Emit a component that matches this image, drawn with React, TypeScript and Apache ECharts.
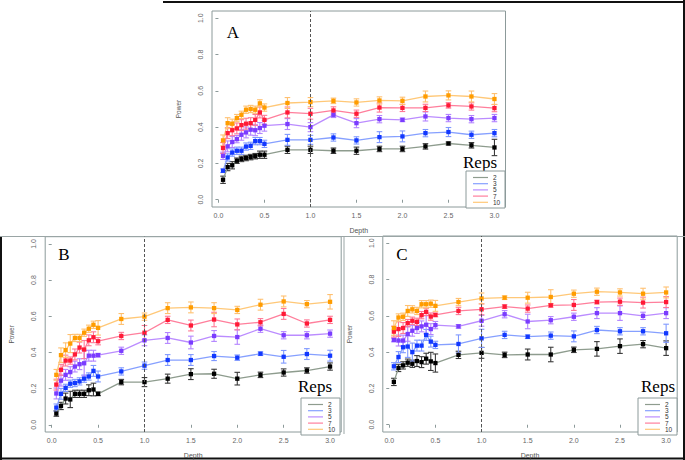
import React, { useEffect, useRef } from "react";
import * as echarts from "echarts";

const depths = [0.05, 0.1, 0.15, 0.2, 0.25, 0.3, 0.35, 0.4, 0.45, 0.5, 0.75, 1.0, 1.25, 1.5, 1.75, 2.0, 2.25, 2.5, 2.75, 3.0];
const reps = ["2", "3", "5", "7", "10"];
const xTicks = [0, 0.5, 1, 1.5, 2, 2.5, 3];
const yTicks = [0, 0.2, 0.4, 0.6, 0.8, 1.0];

// Panel A
const aRep2 = [0.11, 0.18, 0.19, 0.215, 0.225, 0.23, 0.235, 0.24, 0.248, 0.248, 0.275, 0.275, 0.27, 0.27, 0.28, 0.28, 0.294, 0.31, 0.3, 0.288];
const aRep3 = [0.16, 0.233, 0.26, 0.27, 0.27, 0.293, 0.297, 0.323, 0.323, 0.308, 0.33, 0.33, 0.343, 0.327, 0.345, 0.349, 0.367, 0.373, 0.358, 0.367];
const aRep5 = [0.242, 0.294, 0.318, 0.334, 0.358, 0.371, 0.386, 0.383, 0.395, 0.408, 0.417, 0.4, 0.468, 0.422, 0.444, 0.44, 0.459, 0.45, 0.444, 0.45];
const aRep7 = [0.285, 0.367, 0.383, 0.393, 0.411, 0.419, 0.422, 0.44, 0.481, 0.44, 0.481, 0.474, 0.492, 0.474, 0.508, 0.506, 0.506, 0.52, 0.514, 0.505];
const aRep10 = [0.327, 0.422, 0.419, 0.45, 0.468, 0.496, 0.5, 0.496, 0.531, 0.508, 0.533, 0.538, 0.545, 0.536, 0.547, 0.545, 0.569, 0.575, 0.569, 0.555];
const aErr2 = [0.02, 0.02, 0.02, 0.015, 0.015, 0.015, 0.015, 0.015, 0.02, 0.02, 0.02, 0.02, 0.015, 0.02, 0.015, 0.015, 0.015, 0.008, 0.015, 0.045];
const aErr3 = [0.01, 0.02, 0.02, 0.02, 0.02, 0.02, 0.02, 0.02, 0.02, 0.02, 0.03, 0.025, 0.02, 0.02, 0.03, 0.03, 0.02, 0.025, 0.02, 0.02];
const aErr5 = [0.02, 0.03, 0.03, 0.02, 0.03, 0.03, 0.03, 0.03, 0.03, 0.03, 0.03, 0.025, 0.015, 0.025, 0.02, 0.01, 0.025, 0.02, 0.02, 0.02];
const aErr7 = [0.03, 0.03, 0.03, 0.03, 0.03, 0.03, 0.03, 0.03, 0.03, 0.025, 0.03, 0.03, 0.02, 0.02, 0.025, 0.02, 0.02, 0.015, 0.02, 0.02];
const aErr10 = [0.03, 0.03, 0.025, 0.02, 0.02, 0.02, 0.02, 0.02, 0.02, 0.02, 0.03, 0.025, 0.015, 0.02, 0.02, 0.02, 0.03, 0.025, 0.03, 0.03];

// Panel B
const bRep2 = [0.062, 0.104, 0.145, 0.14, 0.171, 0.171, 0.171, 0.191, 0.195, 0.171, 0.236, 0.236, 0.255, 0.28, 0.282, 0.255, 0.276, 0.289, 0.3, 0.322];
const bRep3 = [0.095, 0.171, 0.204, 0.227, 0.231, 0.24, 0.255, 0.267, 0.298, 0.267, 0.295, 0.327, 0.358, 0.358, 0.38, 0.371, 0.393, 0.376, 0.391, 0.382];
const bRep5 = [0.173, 0.244, 0.276, 0.291, 0.322, 0.335, 0.34, 0.382, 0.382, 0.385, 0.409, 0.467, 0.48, 0.455, 0.491, 0.485, 0.531, 0.495, 0.495, 0.504];
const bRep7 = [0.222, 0.304, 0.355, 0.355, 0.389, 0.427, 0.416, 0.467, 0.484, 0.462, 0.491, 0.509, 0.58, 0.549, 0.582, 0.555, 0.567, 0.613, 0.56, 0.58];
const bRep10 = [0.276, 0.385, 0.413, 0.449, 0.48, 0.48, 0.509, 0.531, 0.553, 0.536, 0.585, 0.598, 0.645, 0.649, 0.645, 0.635, 0.664, 0.682, 0.667, 0.68];
const bErr2 = [0.015, 0.02, 0.03, 0.045, 0.02, 0.02, 0.02, 0.03, 0.035, 0.01, 0.015, 0.025, 0.025, 0.03, 0.025, 0.035, 0.015, 0.02, 0.015, 0.02];
const bErr3 = [0.02, 0.03, 0.02, 0.02, 0.02, 0.02, 0.02, 0.02, 0.03, 0.03, 0.02, 0.02, 0.03, 0.03, 0.025, 0.015, 0.01, 0.035, 0.03, 0.03];
const bErr5 = [0.03, 0.03, 0.03, 0.03, 0.03, 0.03, 0.07, 0.03, 0.03, 0.01, 0.02, 0.03, 0.03, 0.035, 0.03, 0.04, 0.02, 0.02, 0.02, 0.02];
const bErr7 = [0.03, 0.03, 0.03, 0.02, 0.03, 0.03, 0.05, 0.03, 0.03, 0.02, 0.02, 0.04, 0.02, 0.03, 0.04, 0.03, 0.02, 0.03, 0.02, 0.02];
const bErr10 = [0.03, 0.04, 0.04, 0.05, 0.02, 0.02, 0.02, 0.02, 0.02, 0.04, 0.03, 0.02, 0.03, 0.03, 0.03, 0.02, 0.03, 0.03, 0.02, 0.04];

// Panel C
const cRep2 = [0.236, 0.313, 0.327, 0.342, 0.336, 0.351, 0.345, 0.364, 0.349, 0.34, 0.385, 0.396, 0.385, 0.387, 0.387, 0.413, 0.418, 0.433, 0.444, 0.422];
const cRep3 = [0.322, 0.373, 0.427, 0.431, 0.4, 0.436, 0.436, 0.495, 0.458, 0.44, 0.445, 0.476, 0.495, 0.485, 0.491, 0.487, 0.522, 0.515, 0.515, 0.504];
const cRep5 = [0.467, 0.464, 0.464, 0.5, 0.518, 0.533, 0.542, 0.551, 0.527, 0.549, 0.542, 0.573, 0.609, 0.569, 0.576, 0.595, 0.615, 0.615, 0.6, 0.615];
const cRep7 = [0.513, 0.527, 0.533, 0.56, 0.573, 0.567, 0.604, 0.622, 0.596, 0.605, 0.627, 0.636, 0.651, 0.64, 0.658, 0.66, 0.676, 0.678, 0.673, 0.676];
const cRep10 = [0.533, 0.591, 0.595, 0.627, 0.636, 0.627, 0.664, 0.664, 0.667, 0.655, 0.676, 0.696, 0.7, 0.7, 0.704, 0.722, 0.733, 0.729, 0.722, 0.729];
const cErr2 = [0.02, 0.02, 0.02, 0.02, 0.02, 0.03, 0.03, 0.03, 0.05, 0.05, 0.02, 0.03, 0.015, 0.03, 0.04, 0.015, 0.04, 0.04, 0.02, 0.04];
const cErr3 = [0.02, 0.03, 0.03, 0.06, 0.05, 0.03, 0.03, 0.03, 0.03, 0.02, 0.05, 0.05, 0.02, 0.01, 0.02, 0.03, 0.02, 0.02, 0.02, 0.05];
const cErr5 = [0.01, 0.03, 0.03, 0.04, 0.03, 0.03, 0.03, 0.05, 0.03, 0.02, 0.01, 0.03, 0.02, 0.04, 0.02, 0.02, 0.03, 0.04, 0.02, 0.03];
const cErr7 = [0.03, 0.04, 0.03, 0.02, 0.02, 0.02, 0.02, 0.02, 0.02, 0.01, 0.02, 0.03, 0.01, 0.02, 0.01, 0.03, 0.01, 0.02, 0.03, 0.03];
const cErr10 = [0.04, 0.02, 0.02, 0.03, 0.02, 0.02, 0.02, 0.02, 0.02, 0.03, 0.02, 0.03, 0.01, 0.03, 0.04, 0.02, 0.02, 0.02, 0.03, 0.03];

const panelLabels = ["A", "B", "C"];
const panelValues = [
  [aRep2, aRep3, aRep5, aRep7, aRep10],
  [bRep2, bRep3, bRep5, bRep7, bRep10],
  [cRep2, cRep3, cRep5, cRep7, cRep10],
];
const panelErrors = [
  [aErr2, aErr3, aErr5, aErr7, aErr10],
  [bErr2, bErr3, bErr5, bErr7, bErr10],
  [cErr2, cErr3, cErr5, cErr7, cErr10],
];

const pointColors = ["#000000", "#1238ff", "#7a3cff", "#ff1a36", "#ff9c00"];
const lineColors = ["#8e9c8e", "#86a0ff", "#bb8cff", "#ff7f9c", "#ffc878"];
const errColors = ["#3a3a3a", "#7f98ff", "#b384ff", "#ff7896", "#ffc070"];

// layout of each panel (plot box in px)
const grids = [
  { left: 212, top: 11, width: 293.5, height: 196 },
  { left: 45.2, top: 236.7, width: 296, height: 198 },
  { left: 382.8, top: 236, width: 294.4, height: 198 },
];
const labelPos = [
  [233, 32],
  [64, 254],
  [402, 254],
];
const repsPos = [
  [480, 162],
  [315, 386],
  [658, 386],
];
const legendPos = [
  [466, 171],
  [301, 398],
  [638, 398],
];

const SANS = "Liberation Sans, Arial, sans-serif";
const SERIF = "Liberation Serif, Times New Roman, serif";
const BOX = "#8c9a9a";

export default function App() {
  const ref = useRef<HTMLDivElement>(null);
  useEffect(() => {
    if (!ref.current) return;
    const chart = echarts.init(ref.current, null, { renderer: "svg" });

    const xAxes: any[] = [];
    const yAxes: any[] = [];
    const series: any[] = [];
    const graphics: any[] = [];

    grids.forEach((g, p) => {
      xAxes.push({
        type: "value",
        gridIndex: p,
        min: -0.07,
        max: 3.12,
        name: "Depth",
        nameLocation: "middle",
        nameGap: 20,
        nameTextStyle: { fontSize: 7, color: "#555", fontFamily: SANS },
        axisLine: { show: false },
        splitLine: { show: false },
        axisTick: { show: true, length: 3, lineStyle: { color: BOX }, customValues: xTicks },
        axisLabel: {
          fontSize: 7,
          color: "#666",
          fontFamily: SANS,
          margin: 5,
          customValues: xTicks,
          formatter: (v: number) => v.toFixed(1),
        },
      });
      yAxes.push({
        type: "value",
        gridIndex: p,
        min: -0.04,
        max: 1.04,
        name: "Power",
        nameLocation: "middle",
        nameGap: 30,
        nameRotate: 90,
        nameTextStyle: { fontSize: 6.5, color: "#555", fontFamily: SANS },
        axisLine: { show: false },
        splitLine: { show: false },
        axisTick: { show: true, length: 3, lineStyle: { color: BOX }, customValues: yTicks },
        axisLabel: {
          fontSize: 7,
          color: "#666",
          fontFamily: SANS,
          rotate: 90,
          margin: 8,
          customValues: yTicks,
          formatter: (v: number) => v.toFixed(1),
        },
      });

      reps.forEach((r, i) => {
        const vals = panelValues[p][i];
        const errs = panelErrors[p][i];
        const ec = errColors[i];
        series.push({
          type: "custom",
          name: r,
          xAxisIndex: p,
          yAxisIndex: p,
          z: 2,
          silent: true,
          encode: { x: 0, y: 1 },
          data: depths.map((d, k) => [d, vals[k], errs[k]]),
          renderItem: (_params: any, api: any) => {
            const x = api.value(0);
            const y = api.value(1);
            const e = api.value(2);
            const t = api.coord([x, y + e]);
            const b = api.coord([x, y - e]);
            const hw = 2.8;
            const st = { stroke: ec, lineWidth: 1.1 };
            return {
              type: "group",
              children: [
                { type: "line", shape: { x1: t[0], y1: t[1], x2: b[0], y2: b[1] }, style: st },
                { type: "line", shape: { x1: t[0] - hw, y1: t[1], x2: t[0] + hw, y2: t[1] }, style: st },
                { type: "line", shape: { x1: b[0] - hw, y1: b[1], x2: b[0] + hw, y2: b[1] }, style: st },
              ],
            };
          },
        });
        const s: any = {
          type: "line",
          name: r,
          xAxisIndex: p,
          yAxisIndex: p,
          z: 3,
          data: depths.map((d, k) => [d, vals[k]]),
          symbol: "rect",
          symbolSize: 4.3,
          showSymbol: true,
          lineStyle: { color: lineColors[i], width: 1.3 },
          itemStyle: { color: pointColors[i] },
          emphasis: { disabled: true },
        };
        if (i === 0) {
          s.markLine = {
            silent: true,
            symbol: ["none", "none"],
            label: { show: false },
            lineStyle: { type: [3, 2], color: "#555", width: 1 },
            data: [{ xAxis: 1 }],
          };
        }
        series.push(s);
      });

      // legend box (R style)
      const lx = legendPos[p][0];
      const ly = legendPos[p][1];
      graphics.push({
        type: "rect",
        silent: true,
        z: 10,
        shape: { x: lx, y: ly, width: 39, height: 37 },
        style: { fill: "#ffffff", stroke: BOX, lineWidth: 1 },
      });
      reps.forEach((r, i) => {
        const ry = ly + 6.5 + i * 6.2;
        graphics.push({
          type: "line",
          silent: true,
          z: 11,
          shape: { x1: lx + 7, y1: ry, x2: lx + 22, y2: ry },
          style: { stroke: lineColors[i], lineWidth: 1.2 },
        });
        graphics.push({
          type: "text",
          silent: true,
          z: 11,
          x: lx + 27,
          y: ry,
          style: {
            text: r,
            fontSize: 6.5,
            fontFamily: SANS,
            fill: "#333",
            align: "left",
            verticalAlign: "middle",
          },
        });
      });

      graphics.push({
        type: "text",
        x: labelPos[p][0],
        y: labelPos[p][1],
        style: { text: panelLabels[p], fontSize: 17, fontFamily: SERIF, fill: "#000", align: "center", verticalAlign: "middle" },
      });
      graphics.push({
        type: "text",
        x: repsPos[p][0],
        y: repsPos[p][1],
        style: { text: "Reps", fontSize: 17, fontFamily: SERIF, fill: "#000", align: "center", verticalAlign: "middle" },
      });
    });

    // figure frame lines
    const frame = [
      { x1: 163, y1: 2, x2: 685, y2: 2, c: "#111", w: 2 },
      { x1: 684, y1: 0, x2: 684, y2: 460, c: "#111", w: 2 },
      { x1: 0, y1: 458.5, x2: 685, y2: 458.5, c: "#111", w: 2 },
      { x1: 1, y1: 236, x2: 1, y2: 460, c: "#111", w: 2 },
      { x1: 0, y1: 236.5, x2: 685, y2: 236.5, c: "#9aa5a5", w: 1 },
      { x1: 344, y1: 236, x2: 344, y2: 434, c: "#9aa5a5", w: 1 },
    ];
    frame.forEach((f) => {
      graphics.push({
        type: "line",
        silent: true,
        shape: { x1: f.x1, y1: f.y1, x2: f.x2, y2: f.y2 },
        style: { stroke: f.c, lineWidth: f.w },
      });
    });

    chart.setOption({
      animation: false,
      backgroundColor: "#ffffff",
      grid: grids.map((g) => ({ ...g, show: true, borderColor: BOX, borderWidth: 1, backgroundColor: "transparent" })),
      xAxis: xAxes,
      yAxis: yAxes,
      series,
      graphic: graphics,
    });
    return () => chart.dispose();
  }, []);
  return <div ref={ref} style={{ position: "absolute", left: 0, top: 0, width: 685, height: 460 }} />;
}
